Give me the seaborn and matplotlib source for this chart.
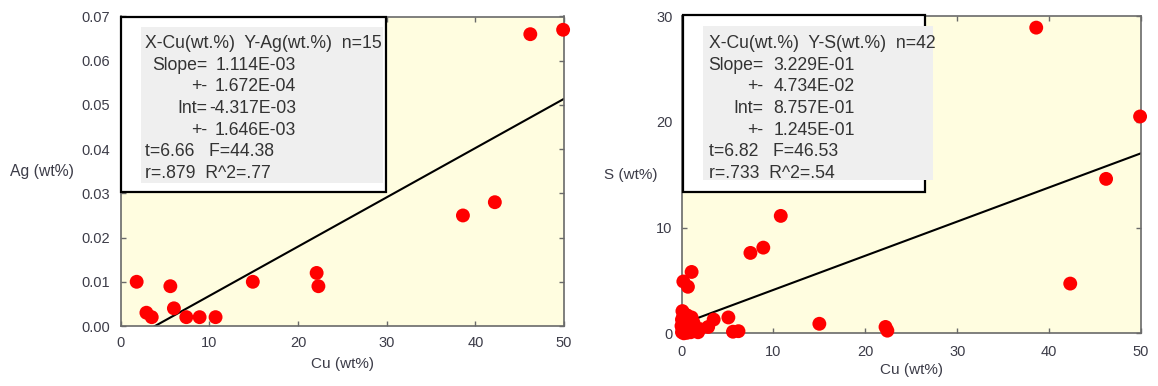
# Cu vs Ag and Cu vs S scatter plots with regression line and stats box
import matplotlib
matplotlib.use("Agg")
import numpy as np
import pandas as pd
import matplotlib.pyplot as plt
import seaborn as sns
from matplotlib.patches import Rectangle

# ---- data ----
ag_cu = [1.8, 2.9, 3.5, 5.6, 6.0, 7.4, 8.9, 10.7, 14.9, 22.1, 22.3, 38.6, 42.2, 46.2, 49.9]
ag_val = [0.010, 0.003, 0.002, 0.009, 0.004, 0.002, 0.002, 0.002, 0.010, 0.012, 0.009,
          0.025, 0.028, 0.066, 0.067]

s_cu = [38.6, 49.9, 46.2, 42.3, 10.8, 8.9, 7.5, 15.0, 22.2, 22.4, 5.1, 5.6, 6.2, 3.5, 2.9,
        1.8, 1.1, 0.2, 0.7,
        0.05, 0.1, 0.15, 0.2, 0.1, 0.3, 0.4, 0.5, 0.6, 0.7, 0.8, 0.9, 1.0, 1.2, 1.3, 0.05,
        0.25, 0.35, 1.5, 2.0, 0.6, 0.0, 1.1]
s_val = [28.9, 20.5, 14.6, 4.7, 11.1, 8.1, 7.6, 0.9, 0.6, 0.25, 1.5, 0.15, 0.2, 1.3, 0.6,
         0.1, 5.8, 4.9, 4.4,
         0.1, 0.5, 1.0, 1.6, 2.1, 0.2, 0.8, 1.4, 0.05, 0.4, 1.2, 0.7, 0.1, 0.5, 1.0, 1.3,
         0.0, 1.8, 0.3, 0.4, 1.7, 0.7, 1.5]

ag_slope, ag_int = 1.114e-03, -4.317e-03
s_slope, s_int = 3.229e-01, 8.757e-01

ag_header = "X-Cu(wt.%)  Y-Ag(wt.%)  n=15"
ag_rows = [("Slope=", "1.114E-03"), ("+-", "1.672E-04"), ("Int=", "-4.317E-03"), ("+-", "1.646E-03")]
ag_foot = ["t=6.66   F=44.38", "r=.879  R^2=.77"]

s_header = "X-Cu(wt.%)  Y-S(wt.%)  n=42"
s_rows = [("Slope=", "3.229E-01"), ("+-", "4.734E-02"), ("Int=", "8.757E-01"), ("+-", "1.245E-01")]
s_foot = ["t=6.82   F=46.53", "r=.733  R^2=.54"]

ag_yticks = [0.00, 0.01, 0.02, 0.03, 0.04, 0.05, 0.06, 0.07]
s_yticks = [0, 10, 20, 30]
cu_xticks = [0, 10, 20, 30, 40, 50]

# ---- style ----
sns.set_style("ticks")
plt.rcParams["font.family"] = ["Liberation Sans", "DejaVu Sans"]

W, H = 1158, 386
fig = plt.figure(figsize=(W / 100, H / 100), dpi=100)


def px_axes(x0, y0, x1, y1):
    return fig.add_axes([x0 / W, 1 - y1 / H, (x1 - x0) / W, (y1 - y0) / H])


def style_axes(ax, pad_y, pad_x):
    ax.set_facecolor("#fffde0")
    for sp in ax.spines.values():
        sp.set_color("#6a6a6a")
        sp.set_linewidth(1.2)
    ax.tick_params(direction="in", length=3.5, width=1, color="#6a6a6a",
                   top=True, right=True, labelsize=10.5, labelcolor="#3c3c48")
    ax.tick_params(axis="y", pad=pad_y)
    ax.tick_params(axis="x", pad=pad_x)


def stats_box(frame, gray, header, rows, foot, x_text, x_lab, x_val):
    fx0, fy0, fx1, fy1 = frame
    fig.add_artist(Rectangle((fx0 / W, 1 - fy1 / H), (fx1 - fx0) / W, (fy1 - fy0) / H,
                             transform=fig.transFigure, facecolor="white",
                             edgecolor="black", linewidth=1.6, zorder=5))
    gx0, gy0, gx1, gy1 = gray
    fig.add_artist(Rectangle((gx0 / W, 1 - gy1 / H), (gx1 - gx0) / W, (gy1 - gy0) / H,
                             transform=fig.transFigure, facecolor="#efefef",
                             edgecolor="none", zorder=6))
    kw = dict(fontsize=12.7, color="#333333", va="center", zorder=7)
    y = 43.3
    step = 21.7
    fig.text(x_text / W, 1 - y / H, header, ha="left", **kw)
    for lab, val in rows:
        y += step
        fig.text(x_lab / W, 1 - y / H, lab, ha="right", **kw)
        fig.text(x_val / W, 1 - y / H, val, ha="right", **kw)
    for line in foot:
        y += step
        fig.text(x_text / W, 1 - y / H, line, ha="left", **kw)


# ---- left: Ag vs Cu ----
ax1 = px_axes(120.7, 16.5, 564, 326)
df_ag = pd.DataFrame({"Cu": ag_cu, "Ag": ag_val})
sns.scatterplot(data=df_ag, x="Cu", y="Ag", ax=ax1, color="#ff0000", s=100,
                edgecolor="none", zorder=3, clip_on=False)
xl = np.array([0, 50])
sns.lineplot(x=xl, y=ag_slope * xl + ag_int, ax=ax1, color="black", linewidth=1.5, zorder=2)
ax1.set_xlim(0, 50)
ax1.set_ylim(0, 0.07)
ax1.set_xticks(cu_xticks)
ax1.set_yticks(ag_yticks)
ax1.set_yticklabels([f"{v:.2f}" for v in ag_yticks])
style_axes(ax1, 7.5, 7.5)
ax1.set_xlabel("Cu (wt%)", fontsize=11, color="#3c3c48")
ax1.xaxis.set_label_coords(0.5, -0.10)
ax1.set_ylabel("Ag (wt%)", fontsize=11.3, color="#3c3c48", rotation=0, ha="left", va="center")
ax1.yaxis.set_label_coords(-0.249, 0.5)

# ---- right: S vs Cu ----
ax2 = px_axes(681.5, 16, 1141, 333.3)
df_s = pd.DataFrame({"Cu": s_cu, "S": s_val})
sns.scatterplot(data=df_s, x="Cu", y="S", ax=ax2, color="#ff0000", s=100,
                edgecolor="none", zorder=3, clip_on=False)
sns.lineplot(x=xl, y=s_slope * xl + s_int, ax=ax2, color="black", linewidth=1.5, zorder=2)
ax2.set_xlim(0, 50)
ax2.set_ylim(0, 30)
ax2.set_xticks(cu_xticks)
ax2.set_yticks(s_yticks)
style_axes(ax2, 6.5, 8.5)
ax2.set_xlabel("Cu (wt%)", fontsize=11, color="#3c3c48")
ax2.xaxis.set_label_coords(0.5, -0.094)
ax2.set_ylabel("S (wt%)", fontsize=11, color="#3c3c48", rotation=0, ha="left", va="center")
ax2.yaxis.set_label_coords(-0.1687, 0.5)

# ---- regression stat boxes ----
stats_box((120.7, 17.3, 385.7, 191.7), (141, 26.7, 383, 183.3),
          ag_header, ag_rows, ag_foot, 145, 207.5, 296)
stats_box((682.7, 15, 925, 191.7), (702.7, 26, 933.3, 180),
          s_header, s_rows, s_foot, 709, 763, 855)

fig.savefig("out.png", dpi=100)
